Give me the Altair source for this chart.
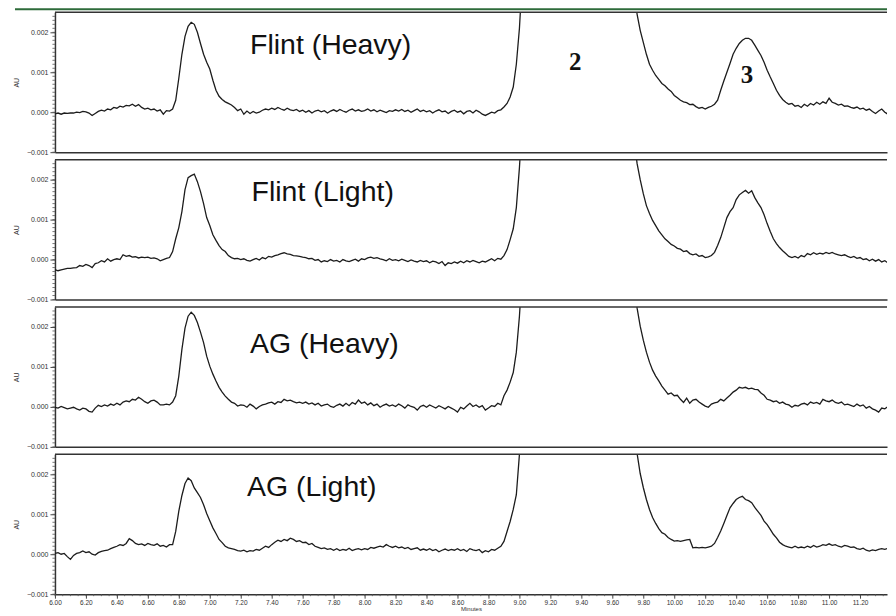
import altair as alt
import pandas as pd

# ---------------- data ----------------
TIME = [
    6.00, 6.02, 6.04, 6.06, 6.08, 6.10, 6.12, 6.14, 6.16, 6.18,
    6.20, 6.22, 6.24, 6.26, 6.28, 6.30, 6.32, 6.34, 6.36, 6.38,
    6.40, 6.42, 6.44, 6.46, 6.48, 6.50, 6.52, 6.54, 6.56, 6.58,
    6.60, 6.62, 6.64, 6.66, 6.68, 6.70, 6.72, 6.74, 6.76, 6.78,
    6.80, 6.82, 6.84, 6.86, 6.88, 6.90, 6.92, 6.94, 6.96, 6.98,
    7.00, 7.02, 7.04, 7.06, 7.08, 7.10, 7.12, 7.14, 7.16, 7.18,
    7.20, 7.22, 7.24, 7.26, 7.28, 7.30, 7.32, 7.34, 7.36, 7.38,
    7.40, 7.42, 7.44, 7.46, 7.48, 7.50, 7.52, 7.54, 7.56, 7.58,
    7.60, 7.62, 7.64, 7.66, 7.68, 7.70, 7.72, 7.74, 7.76, 7.78,
    7.80, 7.82, 7.84, 7.86, 7.88, 7.90, 7.92, 7.94, 7.96, 7.98,
    8.00, 8.02, 8.04, 8.06, 8.08, 8.10, 8.12, 8.14, 8.16, 8.18,
    8.20, 8.22, 8.24, 8.26, 8.28, 8.30, 8.32, 8.34, 8.36, 8.38,
    8.40, 8.42, 8.44, 8.46, 8.48, 8.50, 8.52, 8.54, 8.56, 8.58,
    8.60, 8.62, 8.64, 8.66, 8.68, 8.70, 8.72, 8.74, 8.76, 8.78,
    8.80, 8.82, 8.84, 8.86, 8.88, 8.90, 8.92, 8.94, 8.96, 8.98,
    9.00, 9.02, 9.04, 9.06, 9.08, 9.10, 9.12, 9.14, 9.16, 9.18,
    9.20, 9.22, 9.24, 9.26, 9.28, 9.30, 9.32, 9.34, 9.36, 9.38,
    9.40, 9.42, 9.44, 9.46, 9.48, 9.50, 9.52, 9.54, 9.56, 9.58,
    9.60, 9.62, 9.64, 9.66, 9.68, 9.70, 9.72, 9.74, 9.76, 9.78,
    9.80, 9.82, 9.84, 9.86, 9.88, 9.90, 9.92, 9.94, 9.96, 9.98,
    10.00, 10.02, 10.04, 10.06, 10.08, 10.10, 10.12, 10.14, 10.16, 10.18,
    10.20, 10.22, 10.24, 10.26, 10.28, 10.30, 10.32, 10.34, 10.36, 10.38,
    10.40, 10.42, 10.44, 10.46, 10.48, 10.50, 10.52, 10.54, 10.56, 10.58,
    10.60, 10.62, 10.64, 10.66, 10.68, 10.70, 10.72, 10.74, 10.76, 10.78,
    10.80, 10.82, 10.84, 10.86, 10.88, 10.90, 10.92, 10.94, 10.96, 10.98,
    11.00, 11.02, 11.04, 11.06, 11.08, 11.10, 11.12, 11.14, 11.16, 11.18,
    11.20, 11.22, 11.24, 11.26, 11.28, 11.30, 11.32, 11.34, 11.36, 11.38,
    11.40, 11.42,
]

# absorbance in mAU (x 0.001 AU); values of 3+ are the off-scale peak 2
FLINT_HEAVY = [
    -0.04, -0.02, -0.05, -0.02, -0.03, -0.02, -0.02, 0.00, -0.01, 0.02,
    0.01, -0.02, -0.08, -0.03, 0.02, 0.05, 0.03, 0.08, 0.06, 0.12,
    0.10, 0.15, 0.13, 0.17, 0.16, 0.20, 0.15, 0.19, 0.12, 0.08,
    0.10, 0.06, 0.08, 0.03, 0.06, -0.05, 0.04, 0.03, 0.08, 0.30,
    0.85, 1.45, 1.90, 2.15, 2.25, 2.20, 2.00, 1.72, 1.45, 1.25,
    1.08, 0.80, 0.55, 0.40, 0.32, 0.26, 0.22, 0.18, 0.12, 0.04,
    0.08, -0.05, 0.03, -0.03, 0.02, -0.02, 0.00, 0.05, 0.08, 0.06,
    0.10, 0.07, 0.12, 0.08, 0.05, 0.10, 0.06, 0.04, 0.07, 0.02,
    0.05, 0.00, 0.04, -0.02, 0.03, 0.05, 0.01, 0.04, -0.02, 0.03,
    0.06, 0.02, 0.07, 0.03, 0.00, 0.05, 0.08, 0.03, 0.06, 0.02,
    0.04, 0.08, 0.03, 0.06, 0.01, 0.05, 0.02, -0.01, 0.04, 0.02,
    0.06, 0.03, 0.07, 0.02, 0.05, 0.00, 0.04, 0.08, 0.02, 0.05,
    0.01, 0.04, -0.02, 0.03, 0.06, 0.01, 0.03, -0.03, 0.02, 0.05,
    0.00, 0.03, -0.04, 0.02, 0.04, -0.02, 0.05, 0.01, -0.05, -0.08,
    -0.04, 0.00, -0.02, 0.04, 0.06, 0.13, 0.22, 0.38, 0.63, 1.20,
    2.10, 3.50, 5.0, 7.0, 9.0, 10, 10, 10, 10, 10,
    10, 10, 10, 10, 10, 10, 10, 10, 10, 10,
    10, 10, 10, 10, 10, 10, 10, 10, 10, 10,
    10, 9, 8, 7, 6, 5, 4, 3.0, 2.45, 2.05,
    1.75, 1.45, 1.20, 1.05, 0.92, 0.82, 0.72, 0.66, 0.58, 0.52,
    0.42, 0.36, 0.30, 0.26, 0.24, 0.19, 0.20, 0.14, 0.10, 0.12,
    0.08, 0.12, 0.15, 0.20, 0.30, 0.55, 0.78, 1.00, 1.22, 1.45,
    1.60, 1.72, 1.80, 1.85, 1.85, 1.80, 1.68, 1.55, 1.42, 1.25,
    1.05, 0.88, 0.72, 0.55, 0.42, 0.32, 0.25, 0.20, 0.22, 0.15,
    0.17, 0.12, 0.20, 0.15, 0.22, 0.18, 0.25, 0.20, 0.26, 0.22,
    0.35, 0.25, 0.22, 0.18, 0.20, 0.15, 0.16, 0.12, 0.10, 0.13,
    0.08, 0.10, 0.05, 0.08, 0.02, -0.03, 0.03, 0.08, 0.00, -0.05,
    -0.07, -0.02,
]

FLINT_LIGHT = [
    -0.25, -0.28, -0.26, -0.24, -0.22, -0.22, -0.21, -0.20, -0.15, -0.17,
    -0.12, -0.15, -0.20, -0.10, -0.08, -0.03, -0.06, 0.02, -0.04, 0.00,
    0.02, 0.00, 0.12, 0.08, 0.10, 0.06, 0.07, 0.04, 0.06, 0.05,
    0.06, 0.03, 0.04, 0.02, -0.03, 0.00, 0.03, 0.05, 0.20, 0.52,
    0.80, 1.20, 1.75, 2.05, 2.10, 2.14, 1.95, 1.70, 1.40, 1.05,
    0.85, 0.62, 0.48, 0.35, 0.25, 0.20, 0.10, 0.05, 0.02, 0.03,
    0.00, 0.02, -0.02, -0.04, 0.00, 0.03, -0.01, 0.05, 0.02, 0.08,
    0.06, 0.10, 0.12, 0.15, 0.17, 0.14, 0.13, 0.10, 0.09, 0.08,
    0.06, 0.05, 0.02, 0.03, -0.02, 0.00, -0.06, -0.03, -0.05, 0.00,
    -0.04, -0.02, -0.06, 0.00, -0.03, -0.05, -0.02, 0.01, -0.04, 0.02,
    0.00, 0.04, 0.06, 0.03, 0.05, 0.02, 0.00, -0.03, 0.02, -0.02,
    0.00, -0.03, 0.01, -0.02, -0.05, -0.01, -0.04, -0.06, -0.02, -0.05,
    -0.03, -0.08, -0.04, -0.06, -0.10, -0.05, -0.15, -0.08, -0.10, -0.06,
    -0.09, -0.04, -0.08, -0.03, -0.06, -0.02, -0.05, -0.08, -0.04, -0.06,
    -0.02, 0.02, -0.03, 0.03, 0.01, 0.10, 0.25, 0.50, 0.77, 1.30,
    2.30, 3.6, 5.0, 7.0, 9.0, 10, 10, 10, 10, 10,
    10, 10, 10, 10, 10, 10, 10, 10, 10, 10,
    10, 10, 10, 10, 10, 10, 10, 10, 10, 10,
    10, 9, 8, 7, 6, 5, 4, 3.0, 2.4, 2.0,
    1.65, 1.35, 1.15, 0.98, 0.85, 0.72, 0.62, 0.52, 0.45, 0.38,
    0.34, 0.28, 0.26, 0.20, 0.22, 0.15, 0.12, 0.14, 0.08, 0.10,
    0.05, 0.07, 0.10, 0.18, 0.35, 0.55, 0.80, 1.05, 1.20, 1.30,
    1.50, 1.62, 1.68, 1.73, 1.66, 1.72, 1.55, 1.42, 1.30, 1.12,
    0.90, 0.70, 0.52, 0.40, 0.30, 0.22, 0.15, 0.08, 0.05, 0.08,
    0.04, 0.10, 0.07, 0.15, 0.12, 0.17, 0.13, 0.16, 0.14, 0.18,
    0.15, 0.18, 0.14, 0.12, 0.10, 0.12, 0.08, 0.05, 0.08, 0.03,
    0.05, 0.00, 0.02, -0.03, 0.01, -0.04, 0.00, -0.06, -0.03, -0.08,
    -0.10, -0.18,
]

AG_HEAVY = [
    -0.01, -0.03, 0.01, -0.02, -0.05, -0.03, -0.01, -0.05, -0.08, -0.03,
    -0.05, -0.11, -0.13, -0.03, 0.04, 0.01, 0.05, 0.02, 0.07, 0.04,
    0.09, 0.05, 0.12, 0.15, 0.13, 0.19, 0.17, 0.24, 0.19, 0.13,
    0.09, 0.15, 0.17, 0.12, 0.05, 0.05, 0.07, 0.05, 0.12, 0.28,
    0.77, 1.44, 1.97, 2.27, 2.37, 2.29, 2.11, 1.87, 1.61, 1.27,
    1.02, 0.82, 0.65, 0.49, 0.37, 0.27, 0.19, 0.12, 0.09, 0.02,
    0.05, 0.04, -0.01, 0.07, 0.02, -0.05, 0.01, 0.05, 0.07, 0.10,
    0.12, 0.07, 0.13, 0.11, 0.19, 0.15, 0.17, 0.13, 0.10, 0.12,
    0.09, 0.12, 0.07, 0.10, 0.05, 0.09, 0.02, 0.05, 0.07, 0.01,
    -0.01, 0.04, 0.07, 0.02, 0.09, 0.03, 0.11, 0.07, 0.17, 0.09,
    0.12, 0.05, 0.10, 0.03, 0.07, -0.01, 0.04, 0.07, 0.02, 0.05,
    0.01, 0.07, 0.03, -0.03, 0.05, 0.01, -0.01, -0.08, 0.01, 0.04,
    -0.01, 0.05, 0.01, -0.03, 0.03, -0.01, -0.05, 0.01, -0.03, -0.07,
    -0.13, -0.01, -0.05, 0.02, 0.09, 0.01, 0.05, -0.01, 0.03, -0.08,
    -0.03, 0.03, 0.01, 0.09, 0.05, 0.28, 0.42, 0.62, 0.86, 1.37,
    2.27, 3.5, 5.0, 7.0, 9.0, 10, 10, 10, 10, 10,
    10, 10, 10, 10, 10, 10, 10, 10, 10, 10,
    10, 10, 10, 10, 10, 10, 10, 10, 10, 10,
    10, 9, 8, 7, 6, 5, 4, 3.0, 2.47, 2.02,
    1.67, 1.37, 1.12, 0.92, 0.77, 0.65, 0.52, 0.42, 0.32, 0.35,
    0.28, 0.29, 0.19, 0.11, 0.22, 0.09, 0.17, 0.19, 0.12, 0.07,
    0.02, -0.01, 0.07, 0.10, 0.12, 0.19, 0.15, 0.22, 0.29, 0.37,
    0.42, 0.49, 0.47, 0.49, 0.45, 0.47, 0.44, 0.43, 0.35, 0.29,
    0.19, 0.17, 0.13, 0.15, 0.09, 0.12, 0.07, 0.05, -0.01, 0.04,
    0.02, 0.07, 0.09, 0.05, 0.12, 0.09, 0.11, 0.07, 0.19, 0.15,
    0.13, 0.17, 0.11, 0.09, 0.12, 0.05, 0.07, 0.04, 0.01, 0.07,
    0.02, 0.05, -0.03, 0.01, -0.05, -0.08, -0.13, -0.03, -0.05, 0.01,
    0.05, 0.09,
]

AG_LIGHT = [
    0.02, 0.04, 0.00, 0.02, -0.06, -0.13, -0.03, 0.02, 0.04, 0.08,
    0.04, 0.06, 0.00, -0.02, 0.04, 0.07, 0.09, 0.10, 0.14, 0.17,
    0.20, 0.24, 0.22, 0.27, 0.39, 0.34, 0.27, 0.24, 0.26, 0.22,
    0.27, 0.24, 0.22, 0.26, 0.20, 0.22, 0.18, 0.24, 0.24, 0.57,
    1.08, 1.47, 1.77, 1.91, 1.84, 1.66, 1.54, 1.42, 1.24, 1.02,
    0.84, 0.66, 0.52, 0.37, 0.29, 0.20, 0.16, 0.14, 0.12, 0.09,
    0.08, 0.10, 0.06, 0.09, 0.08, 0.12, 0.10, 0.15, 0.20, 0.17,
    0.24, 0.30, 0.35, 0.32, 0.37, 0.34, 0.40, 0.37, 0.32, 0.34,
    0.29, 0.30, 0.24, 0.27, 0.20, 0.17, 0.14, 0.16, 0.12, 0.14,
    0.10, 0.14, 0.09, 0.12, 0.10, 0.15, 0.09, 0.12, 0.14, 0.11,
    0.14, 0.12, 0.17, 0.15, 0.18, 0.20, 0.18, 0.24, 0.20, 0.17,
    0.20, 0.16, 0.18, 0.14, 0.17, 0.12, 0.14, 0.16, 0.10, 0.13,
    0.10, 0.14, 0.09, 0.12, 0.06, 0.10, 0.13, 0.09, 0.12, 0.10,
    0.14, 0.09, 0.12, 0.07, 0.14, 0.11, 0.09, 0.12, 0.04, 0.09,
    0.06, 0.12, 0.10, 0.15, 0.20, 0.32, 0.57, 0.82, 1.12, 1.49,
    2.5, 3.8, 5.5, 7.5, 9.5, 10, 10, 10, 10, 10,
    10, 10, 10, 10, 10, 10, 10, 10, 10, 10,
    10, 10, 10, 10, 10, 10, 10, 10, 10, 10,
    10, 9, 8, 7, 6, 5, 4, 3.0, 2.52, 2.02,
    1.67, 1.37, 1.12, 0.92, 0.77, 0.64, 0.54, 0.50, 0.42, 0.37,
    0.33, 0.34, 0.32, 0.34, 0.36, 0.37, 0.16, 0.17, 0.16, 0.17,
    0.16, 0.18, 0.20, 0.27, 0.42, 0.58, 0.77, 0.97, 1.16, 1.27,
    1.37, 1.42, 1.45, 1.37, 1.34, 1.29, 1.17, 1.07, 0.97, 0.83,
    0.74, 0.62, 0.50, 0.41, 0.30, 0.24, 0.20, 0.18, 0.16, 0.20,
    0.16, 0.18, 0.16, 0.20, 0.17, 0.22, 0.18, 0.20, 0.24, 0.22,
    0.26, 0.22, 0.24, 0.20, 0.18, 0.22, 0.20, 0.17, 0.18, 0.14,
    0.12, 0.15, 0.10, 0.08, 0.11, 0.09, 0.12, 0.14, 0.12, 0.15,
    0.12, 0.13,
]

PANEL_NAMES = ["Flint (Heavy)", "Flint (Light)", "AG (Heavy)", "AG (Light)"]
PANEL_SERIES = [FLINT_HEAVY, FLINT_LIGHT, AG_HEAVY, AG_LIGHT]
LABEL_T = [7.26, 7.27, 7.26, 7.24]          # minutes
LABEL_V = [1.68, 1.68, 1.57, 1.68]          # mAU

PEAK_NUMS = ["2", "3"]
PEAK_T = [9.36, 10.47]
PEAK_V = [1.25, 0.93]

X_DOMAIN = [6.0, 11.374]
Y_DOMAIN = [-0.001, 0.0025]
Y_MAJOR = [-0.001, 0.0, 0.001, 0.002]
Y_MINOR = [round(-0.001 + i * 0.0001, 4) for i in range(35)]
X_MAJOR = [round(6.0 + i * 0.2, 2) for i in range(27)]
X_MINOR = [round(6.0 + i * 0.05, 2) for i in range(108)]

W = 833
H = 140
FRAME = "#333333"
TXT = "#333333"
LINE = "#1c1c1c"

y_axis = alt.Axis(
    values=Y_MAJOR, format=".3f",
    labelOverlap=False, labelFlush=False,
    labelFont="Liberation Sans", labelFontSize=7, labelColor=TXT, labelPadding=2,
    tickSize=5, tickColor="#444444", tickWidth=1,
    domainColor=FRAME, domainWidth=1.5,
    titleFont="Liberation Sans", titleFontSize=7,
    titleFontWeight="normal", titleColor=TXT, titlePadding=7,
    grid=False,
)


def panel(idx):
    df = pd.DataFrame({"t": TIME, "au": [v / 1000 for v in PANEL_SERIES[idx]]})
    last = idx == len(PANEL_NAMES) - 1
    if last:
        x_axis = alt.Axis(
            values=X_MAJOR, format=".2f",
            labelOverlap=False, labelFlush=False,
            labelFont="Liberation Sans", labelFontSize=6.5, labelColor=TXT,
            labelPadding=1, tickSize=4, tickColor="#444444",
            domainColor=FRAME, domainWidth=1.5,
            titleFont="Liberation Sans", titleFontSize=6,
            titleFontWeight="normal", titleColor=TXT, titlePadding=0,
            grid=False,
        )
    else:
        x_axis = alt.Axis(labels=False, ticks=False, domainColor=FRAME,
                          domainWidth=1.5, grid=False)
    xenc = alt.X("t:Q", scale=alt.Scale(domain=X_DOMAIN, nice=False, zero=False),
                 axis=x_axis, title="Minutes" if last else None)
    yenc = alt.Y("au:Q", scale=alt.Scale(domain=Y_DOMAIN, nice=False, zero=False),
                 axis=y_axis, title="AU")

    line = alt.Chart(df).mark_line(clip=True, color=LINE, strokeWidth=1.3).encode(
        x=xenc, y=yenc
    )
    # minor ticks on the AU axis
    ymin_df = pd.DataFrame({"au": Y_MINOR})
    yminor = alt.Chart(ymin_df).mark_rule(color="#555555", strokeWidth=0.8).encode(
        y=yenc, x=alt.value(-2.5), x2=alt.value(0)
    )
    lab_df = pd.DataFrame({"t": [LABEL_T[idx]], "au": [LABEL_V[idx] / 1000],
                           "txt": [PANEL_NAMES[idx]]})
    label = alt.Chart(lab_df).mark_text(
        align="left", baseline="middle", font="Liberation Sans",
        fontSize=28.5, color="#111111"
    ).encode(x=xenc, y=yenc, text="txt:N")
    top = alt.Chart(lab_df).mark_rule(color=FRAME, strokeWidth=1.5).encode(
        x=alt.value(0), x2=alt.value(W), y=alt.value(0)
    )
    layers = [line, yminor, top, label]
    if last:
        xmin_df = pd.DataFrame({"t": X_MINOR})
        xminor = alt.Chart(xmin_df).mark_rule(color="#555555", strokeWidth=0.8).encode(
            x=xenc, y=alt.value(H), y2=alt.value(H + 2)
        )
        layers.append(xminor)
    if idx == 0:
        pk_df = pd.DataFrame({"t": PEAK_T, "au": [v / 1000 for v in PEAK_V],
                              "txt": PEAK_NUMS})
        peaks = alt.Chart(pk_df).mark_text(
            align="center", baseline="middle", font="Liberation Serif",
            fontWeight="bold", fontSize=25, color="#111111"
        ).encode(x=xenc, y=yenc, text="txt:N")
        green = alt.Chart(lab_df).mark_rule(color="#2e6b3a", strokeWidth=2).encode(
            x=alt.value(-40), x2=alt.value(W), y=alt.value(-3)
        )
        layers += [peaks, green]
    return alt.layer(*layers).properties(width=W, height=H)


chart = alt.vconcat(*[panel(i) for i in range(4)], spacing=3.5).properties(
    padding={"left": 4, "top": 0, "right": 0, "bottom": 0},
    background="white",
).configure_view(stroke=None)

chart.save("out.html", embed_options={"renderer": "svg", "actions": False})
